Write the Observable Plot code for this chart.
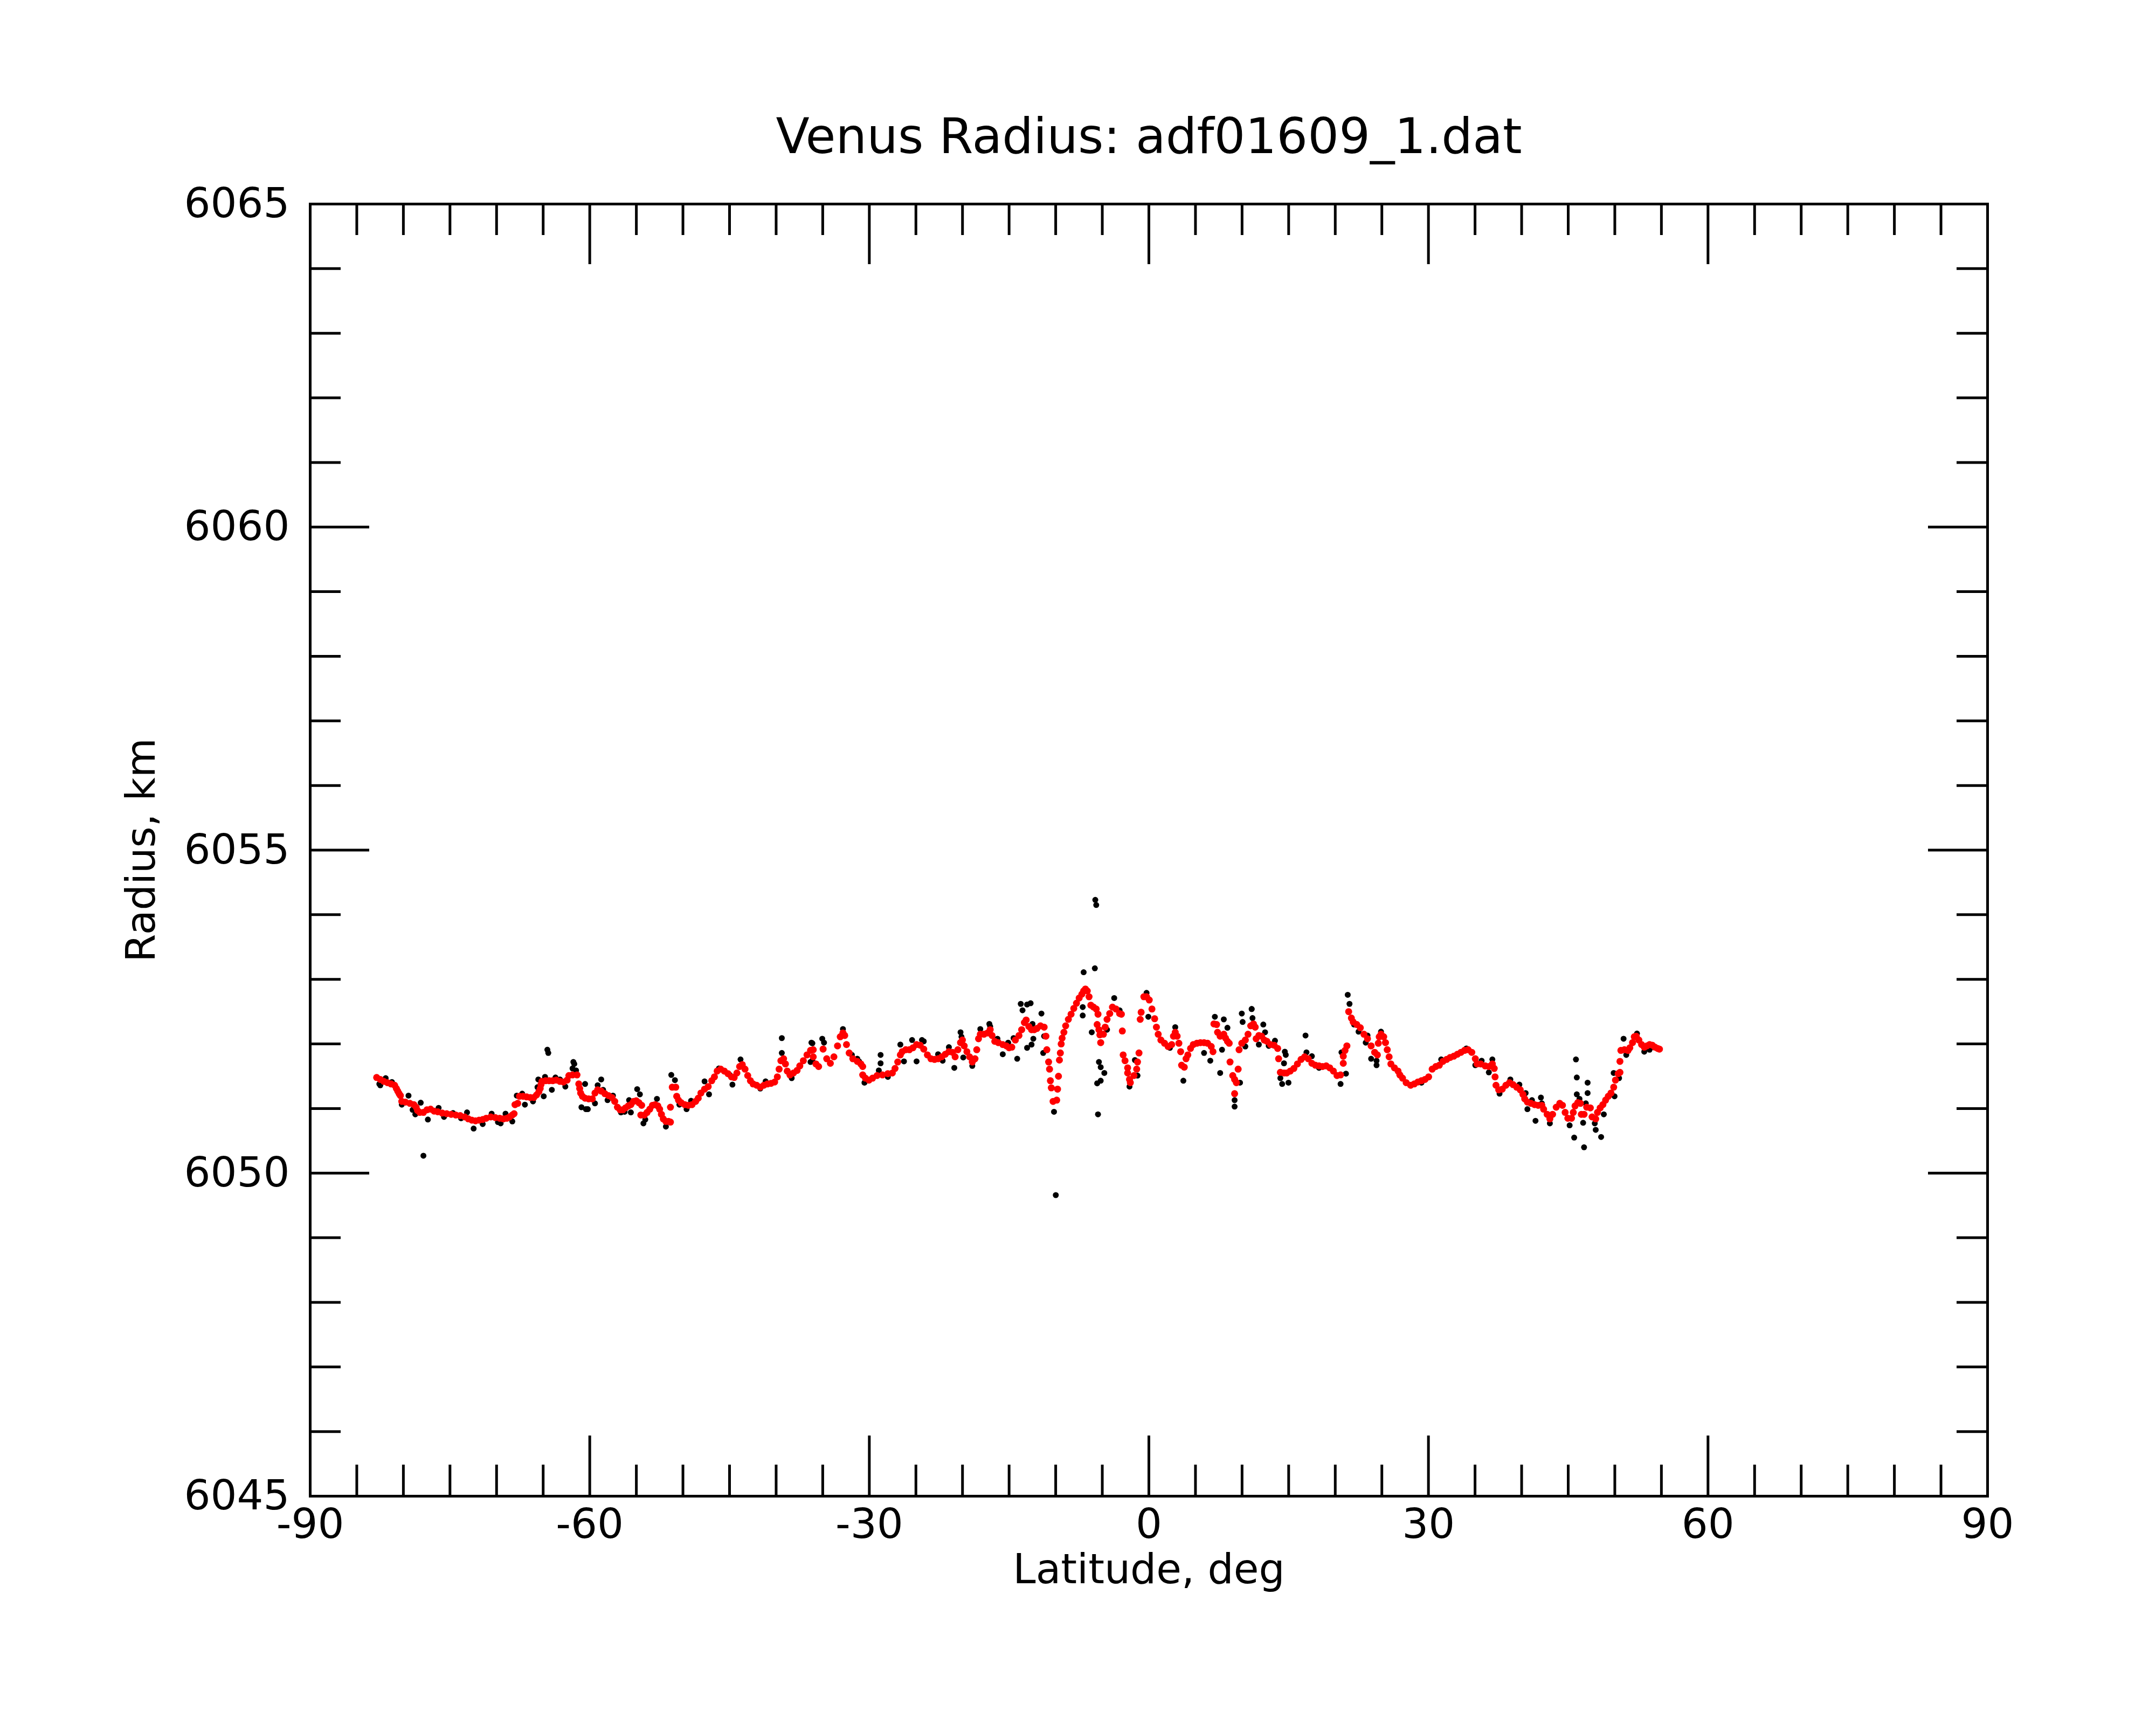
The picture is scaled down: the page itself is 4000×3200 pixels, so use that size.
<!DOCTYPE html>
<html>
<head>
<meta charset="utf-8">
<script src="https://cdn.jsdelivr.net/npm/d3@7"></script>
<script src="https://cdn.jsdelivr.net/npm/@observablehq/plot@0.6"></script>
<style>
  html, body { margin: 0; padding: 0; background: #ffffff; }
  svg { display: block; }
</style>
</head>
<body>
<div id="chart"></div>
<script>
const titleText = "Venus Radius: adf01609_1.dat";
const xLabel = "Latitude, deg";
const yLabel = "Radius, km";

const xMajorTicks = [-90, -60, -30, 0, 30, 60, 90];
const xMinorTicks = [-85, -80, -75, -70, -65, -55, -50, -45, -40, -35, -25, -20, -15, -10, -5,
                     5, 10, 15, 20, 25, 35, 40, 45, 50, 55, 65, 70, 75, 80, 85];
const yMajorTicks = [6045, 6050, 6055, 6060, 6065];
const yMinorTicks = [6046, 6047, 6048, 6049, 6051, 6052, 6053, 6054, 6056, 6057, 6058, 6059,
                     6061, 6062, 6063, 6064];

// black points: measured radius [latitude, radius]
const rawPoints = [
  [-82.58,6051.38],[-82.48,6051.36],[-81.90,6051.47],[-81.23,6051.41],[-80.17,6051.06],[-79.45,6051.20],
  [-79.01,6050.98],[-78.72,6050.91],[-78.14,6051.09],[-77.37,6050.83],[-76.22,6051.01],[-75.64,6050.87],
  [-74.67,6050.93],[-73.81,6050.85],[-73.17,6050.94],[-72.46,6050.69],[-71.49,6050.76],[-70.53,6050.92],
  [-69.85,6050.79],[-69.56,6050.77],[-69.04,6050.92],[-68.31,6050.80],[-67.83,6051.20],[-67.25,6051.23],
  [-66.96,6051.06],[-66.09,6051.11],[-65.52,6051.45],[-65.61,6051.33],[-64.94,6051.19],[-64.80,6051.49],
  [-64.55,6051.91],[-64.45,6051.86],[-64.07,6051.29],[-63.68,6051.48],[-63.20,6051.45],[-62.62,6051.34],
  [-61.76,6051.72],[-61.66,6051.69],[-61.85,6051.62],[-61.47,6051.59],[-60.50,6051.38],[-60.89,6051.02],
  [-60.41,6050.99],[-77.85,6050.27],
  [-60.21,6050.99],[-59.44,6051.08],[-59.15,6051.36],[-58.77,6051.45],[-58.57,6051.29],[-58.09,6051.13],
  [-57.51,6051.20],[-56.65,6050.94],[-56.26,6050.95],[-55.78,6051.13],[-55.59,6050.94],[-54.91,6051.30],
  [-54.62,6051.22],[-54.24,6050.77],[-54.04,6050.83],[-52.79,6051.15],[-51.83,6050.72],[-51.25,6051.52],
  [-50.86,6051.44],[-50.38,6051.06],[-49.61,6050.99],[-49.13,6051.12],[-47.68,6051.42],[-47.20,6051.22],
  [-46.14,6051.62],[-44.98,6051.52],[-44.69,6051.37],[-43.82,6051.76],[-41.70,6051.31],[-41.13,6051.42],
  [-39.39,6052.09],[-39.39,6051.86],[-38.33,6051.47],[-36.11,6052.01],[-36.31,6051.72],
  [-36.21,6052.02],[-36.11,6051.74],[-35.05,6052.08],[-34.86,6052.02],[-32.83,6052.23],[-31.87,6051.83],
  [-31.29,6051.77],[-31.10,6051.73],[-30.52,6051.40],[-28.79,6051.83],[-28.79,6051.70],[-28.98,6051.59],
  [-28.01,6051.49],[-26.67,6051.99],[-26.28,6051.73],[-25.41,6052.06],[-24.93,6051.73],[-24.35,6052.06],
  [-24.16,6052.04],[-22.62,6051.84],[-22.13,6051.74],[-21.46,6051.95],[-20.88,6051.63],[-20.21,6052.18],
  [-20.11,6052.11],[-19.92,6051.79],[-18.95,6051.66],[-18.09,6052.23],[-17.12,6052.31],[-17.03,6052.27],
  [-16.25,6052.08],[-15.68,6051.84],[-15.10,6052.02],[-14.52,6052.09],[-14.13,6051.77],[-13.75,6052.62],
  [-13.56,6052.52],[-13.07,6052.61],[-13.07,6051.94],[-12.49,6052.31],[-12.40,6052.08],
  [-5.75,6054.23],[-5.65,6054.15],[-7.00,6053.11],[-5.80,6053.17],[-7.10,6052.57],[-7.10,6052.44],
  [-6.13,6052.18],[-5.36,6051.72],[-5.17,6051.64],[-4.78,6051.55],[-5.17,6051.43],[-5.55,6051.39],
  [-5.46,6050.91],[-9.99,6049.66],[-10.18,6050.95],[-12.69,6052.63],[-11.53,6052.47],[-12.59,6051.99],
  [-11.34,6051.86],[-11.24,6052.12],[-2.08,6051.34],[-1.50,6051.75],[-1.22,6051.51],[-0.25,6052.79],
  [-0.06,6052.42],[-3.72,6052.71],[-3.14,6052.52],[-4.49,6052.22],[2.83,6052.26],[2.26,6051.94],
  [3.70,6051.43],[6.59,6051.74],[5.92,6051.86],[7.08,6052.42],[8.04,6052.38],[8.43,6052.25],
  [7.65,6051.55],[7.85,6051.91],[9.20,6051.13],[9.20,6051.03],[9.78,6051.40],[9.97,6052.47],
  [10.06,6052.34],[11.03,6052.54],[10.35,6051.96],
  [11.03,6052.54],[11.12,6052.40],[11.80,6051.99],[12.28,6052.30],[12.47,6052.18],[12.86,6051.97],
  [13.53,6052.05],[14.59,6051.88],[14.69,6051.83],[14.50,6051.70],[14.11,6051.47],[14.30,6051.38],
  [14.98,6051.40],[16.81,6052.13],[16.91,6051.87],[17.49,6051.81],[18.26,6051.63],[20.57,6051.38],
  [20.67,6051.87],[21.15,6051.54],[21.34,6052.76],[21.53,6052.62],[22.02,6052.30],[22.50,6052.19],
  [23.46,6052.13],[23.27,6052.02],[23.85,6051.77],[24.43,6051.74],[24.43,6051.67],[24.91,6052.19],
  [29.25,6051.40],[31.37,6051.76],[34.07,6051.93],[35.03,6051.67],
  [35.71,6051.74],[36.48,6051.56],[36.86,6051.76],[37.63,6051.23],[38.79,6051.45],[39.76,6051.37],
  [40.43,6051.24],[40.62,6050.99],[41.11,6051.13],[41.49,6050.81],[42.07,6051.17],[42.17,6051.08],
  [43.03,6050.77],[44.09,6051.08],[45.15,6050.74],[45.64,6050.55],[45.83,6051.76],[45.92,6051.48],
  [45.92,6051.22],[46.21,6051.15],[46.60,6050.78],[46.70,6050.40],[47.08,6051.40],[47.08,6051.24],
  [46.89,6051.08],[47.85,6050.77],[47.95,6050.67],[48.53,6050.56],[48.82,6050.91],[49.97,6051.19],
  [49.88,6051.55],[50.46,6051.47],[50.94,6052.08],[51.23,6051.83],[52.38,6052.16],[53.16,6051.88],
  [53.73,6051.91]
];

// red points: fitted radius [latitude, radius]
const fitPoints = [
  [-82.87,6051.48],[-82.48,6051.45],[-82.10,6051.42],[-81.71,6051.40],[-81.32,6051.38],[-80.94,6051.36],
  [-80.75,6051.31],[-80.61,6051.27],[-80.46,6051.23],[-80.32,6051.20],[-80.17,6051.11],[-79.78,6051.10],
  [-79.30,6051.08],[-78.88,6051.06],[-78.63,6051.02],[-78.49,6050.97],[-78.24,6050.94],[-77.85,6050.94],
  [-77.47,6050.98],[-77.08,6050.99],[-76.70,6050.96],[-76.31,6050.95],[-75.83,6050.93],[-75.35,6050.92],
  [-74.87,6050.91],[-74.38,6050.90],[-73.90,6050.89],[-73.42,6050.87],[-73.03,6050.84],[-72.65,6050.82],
  [-72.26,6050.81],[-71.88,6050.82],[-71.49,6050.83],[-71.11,6050.85],[-70.62,6050.87],[-70.14,6050.86],
  [-69.66,6050.85],[-69.27,6050.84],[-68.89,6050.85],[-68.60,6050.87],[-68.31,6050.90],[-68.12,6050.92],
  [-68.02,6051.06],[-67.73,6051.08],[-67.54,6051.19],[-67.15,6051.19],[-66.77,6051.18],[-66.38,6051.17],
  [-66.00,6051.17],[-65.71,6051.21],[-65.46,6051.26],[-65.32,6051.31],[-65.23,6051.37],[-65.13,6051.42],
  [-64.74,6051.43],[-64.36,6051.43],[-63.97,6051.43],[-63.59,6051.44],[-63.20,6051.42],[-62.82,6051.41],
  [-62.43,6051.44],[-62.24,6051.51],[-61.85,6051.52],[-61.37,6051.52],[-61.18,6051.38],[-61.08,6051.31],
  [-60.98,6051.24],[-60.79,6051.19],[-60.50,6051.16],[-60.12,6051.15],[-59.73,6051.15],
  [-59.44,6051.24],[-59.15,6051.29],[-58.77,6051.27],[-58.38,6051.23],[-57.99,6051.20],[-57.61,6051.17],
  [-57.32,6051.11],[-57.03,6051.02],[-56.74,6050.98],[-56.45,6050.98],[-56.16,6051.01],[-55.87,6051.04],
  [-55.59,6051.06],[-55.30,6051.11],[-55.01,6051.12],[-54.72,6051.09],[-54.43,6051.05],[-54.52,6050.90],
  [-54.14,6050.90],[-53.85,6050.94],[-53.56,6050.99],[-53.27,6051.05],[-52.98,6051.06],[-52.69,6051.04],
  [-52.50,6050.99],[-52.31,6050.91],[-52.11,6050.84],[-51.83,6050.80],[-51.54,6050.80],[-51.34,6050.79],
  [-51.34,6051.02],[-51.15,6051.33],[-50.77,6051.33],[-50.67,6051.19],[-50.48,6051.13],[-50.19,6051.09],
  [-49.80,6051.06],[-49.42,6051.05],[-49.03,6051.06],[-48.64,6051.11],[-48.36,6051.16],[-48.07,6051.24],
  [-47.68,6051.30],[-47.29,6051.34],[-46.91,6051.43],[-46.62,6051.49],[-46.33,6051.58],[-45.95,6051.61],
  [-45.56,6051.58],[-45.17,6051.54],[-44.79,6051.49],[-44.50,6051.48],[-44.21,6051.55],[-43.92,6051.65],
  [-43.63,6051.68],[-43.34,6051.61],[-43.05,6051.51],[-42.76,6051.43],[-42.47,6051.38],[-42.09,6051.36],
  [-41.70,6051.33],[-41.32,6051.36],[-40.93,6051.38],[-40.55,6051.39],[-40.16,6051.41],[-39.87,6051.49],
  [-39.68,6051.61],[-39.49,6051.74],[-39.20,6051.77],[-39.00,6051.69],[-38.81,6051.58],[-38.52,6051.52],
  [-38.14,6051.55],[-37.75,6051.59],[-37.46,6051.66],[-37.08,6051.74],[-36.69,6051.83],[-36.31,6051.90],
  [-36.02,6051.91],
  [-36.02,6051.80],[-35.73,6051.69],[-35.44,6051.65],[-34.96,6051.92],[-34.57,6051.77],[-34.18,6051.70],
  [-33.80,6051.80],[-33.41,6051.97],[-33.12,6052.11],[-32.83,6052.17],[-32.64,6052.13],[-32.45,6051.99],
  [-32.16,6051.86],[-31.77,6051.77],[-31.29,6051.73],[-30.91,6051.69],[-30.71,6051.65],[-30.71,6051.52],
  [-30.42,6051.47],[-30.04,6051.44],[-29.65,6051.47],[-29.17,6051.51],[-28.59,6051.52],[-28.01,6051.54],
  [-27.53,6051.55],[-27.24,6051.62],[-26.95,6051.72],[-26.67,6051.83],[-26.47,6051.88],[-26.09,6051.91],
  [-25.70,6051.91],[-25.32,6051.94],[-24.93,6051.99],[-24.54,6051.98],[-24.16,6051.92],[-23.77,6051.83],
  [-23.39,6051.77],[-23.00,6051.76],[-22.62,6051.77],[-22.23,6051.80],[-21.85,6051.84],[-21.46,6051.88],
  [-21.07,6051.87],[-20.79,6051.80],[-20.50,6051.91],[-20.21,6052.02],[-20.01,6052.06],[-19.82,6051.97],
  [-19.53,6051.88],[-19.24,6051.80],[-18.95,6051.72],[-18.66,6051.77],[-18.47,6051.91],[-18.28,6052.08],
  [-18.09,6052.15],[-17.70,6052.15],[-17.31,6052.17],[-17.03,6052.22],[-16.83,6052.13],[-16.54,6052.04],
  [-16.16,6052.02],[-15.68,6051.99],[-15.29,6051.97],[-15.00,6051.94],[-14.71,6051.95],[-14.33,6052.06],
  [-13.94,6052.13],[-13.65,6052.22],[-13.36,6052.33],[-13.17,6052.37],[-12.88,6052.27],[-12.59,6052.22],
  [-12.30,6052.22],
  [-12.01,6052.24],[-11.63,6052.28],[-11.24,6052.26],[-11.05,6052.12],[-10.95,6051.91],[-10.76,6051.72],
  [-10.66,6051.61],[-10.57,6051.43],[-10.47,6051.32],[-10.28,6051.11],[-9.89,6051.13],[-9.80,6051.30],
  [-9.70,6051.50],[-9.60,6051.75],[-9.50,6051.86],[-9.41,6052.00],[-9.31,6052.09],[-9.12,6052.18],
  [-8.93,6052.28],[-8.64,6052.38],[-8.35,6052.46],[-8.06,6052.55],[-7.77,6052.63],[-7.48,6052.71],
  [-7.19,6052.77],[-7.00,6052.82],[-6.81,6052.85],[-6.61,6052.82],[-6.42,6052.73],[-6.23,6052.60],
  [-5.94,6052.57],[-5.65,6052.54],[-5.46,6052.46],[-5.55,6052.30],[-5.36,6052.22],[-5.26,6052.14],
  [-5.17,6052.02],[-4.88,6052.15],[-4.69,6052.26],[-4.49,6052.38],[-4.20,6052.47],[-3.91,6052.57],
  [-3.53,6052.54],[-3.14,6052.47],[-2.95,6052.46],[-2.85,6052.20],[-2.76,6051.83],[-2.56,6051.74],
  [-2.28,6051.63],[-2.28,6051.55],[-2.08,6051.45],[-1.99,6051.40],[-1.60,6051.51],[-1.31,6051.61],
  [-1.22,6051.72],[-1.06,6051.86],[-0.93,6052.38],[-0.83,6052.49],[-0.54,6052.73],[-0.25,6052.73],
  [0.04,6052.68],[0.33,6052.54],[0.62,6052.39],[0.81,6052.26],[1.00,6052.15],[1.29,6052.06],
  [1.68,6052.01],[2.06,6051.96],[2.45,6051.99],[2.64,6052.12],[2.83,6052.18],[3.03,6052.12],
  [3.22,6052.01],[3.41,6051.88],[3.51,6051.67],[3.80,6051.64],[3.99,6051.77],[4.18,6051.83],
  [4.47,6051.93],[4.76,6051.99],[5.15,6052.01],[5.53,6052.02],[5.92,6052.02],[6.30,6052.01],
  [6.69,6051.96],[6.88,6051.88],[6.98,6052.31],[7.27,6052.30],[7.37,6052.18],[7.65,6052.12],
  [8.04,6052.15],[8.23,6052.09],[8.43,6052.04],[8.62,6052.01],[8.71,6051.72],[9.00,6051.51],
  [9.20,6051.45],[9.39,6051.40],[9.58,6051.61],[9.20,6051.23],[9.68,6051.91],[9.97,6052.01],
  [10.35,6052.06],[10.64,6052.15],[10.93,6052.28],[11.22,6052.31],[11.41,6052.26],
  [11.51,6052.08],[11.80,6052.13],[12.09,6052.12],[12.38,6052.06],[12.67,6052.04],[13.05,6051.99],
  [13.44,6051.98],[13.82,6051.93],[13.92,6051.77],[14.11,6051.56],[14.50,6051.55],[14.79,6051.55],
  [15.17,6051.58],[15.56,6051.62],[15.94,6051.69],[16.33,6051.76],[16.71,6051.80],[17.10,6051.77],
  [17.49,6051.70],[17.87,6051.67],[18.26,6051.66],[18.64,6051.65],[19.03,6051.66],[19.41,6051.63],
  [19.80,6051.58],[20.19,6051.51],[20.57,6051.52],[20.86,6051.70],[20.86,6051.81],[21.05,6051.90],
  [21.25,6051.97],[21.44,6052.50],[21.73,6052.40],[21.92,6052.34],[22.31,6052.30],[22.69,6052.25],
  [23.08,6052.15],[23.46,6052.08],[23.85,6051.97],[24.23,6051.87],[24.52,6051.83],[24.62,6052.01],
  [24.72,6052.11],[24.91,6052.15],[25.20,6052.11],[25.39,6052.02],[25.58,6051.91],[25.78,6051.80],
  [25.97,6051.69],[26.35,6051.63],[26.74,6051.58],[26.93,6051.52],[27.22,6051.47],[27.61,6051.40],
  [28.09,6051.36],[28.48,6051.38],[28.86,6051.41],[29.25,6051.43],[29.63,6051.45],[30.02,6051.49],
  [30.40,6051.61],[30.79,6051.65],[31.17,6051.67],[31.56,6051.73],[31.95,6051.76],[32.33,6051.79],
  [32.72,6051.81],[33.10,6051.84],[33.49,6051.87],[33.87,6051.90],[34.26,6051.91],[34.65,6051.87],
  [35.03,6051.77],[35.22,6051.69],
  [35.61,6051.69],[36.09,6051.66],[36.48,6051.65],[36.86,6051.69],[37.06,6051.62],[37.15,6051.49],
  [37.25,6051.36],[37.54,6051.29],[37.92,6051.30],[38.31,6051.36],[38.70,6051.40],[39.08,6051.37],
  [39.47,6051.33],[39.85,6051.29],[40.14,6051.22],[40.33,6051.15],[40.62,6051.10],[41.01,6051.08],
  [41.39,6051.06],[41.78,6051.05],[42.17,6051.05],[42.36,6050.99],[42.74,6050.91],[43.03,6050.84],
  [43.32,6050.91],[43.71,6051.02],[44.09,6051.08],[44.38,6051.05],[44.67,6050.94],[44.96,6050.85],
  [45.35,6050.85],[45.54,6050.94],[45.73,6051.04],[46.02,6051.09],[46.31,6051.08],[46.41,6050.91],
  [46.70,6050.91],[46.98,6051.02],[47.37,6051.01],[47.56,6050.87],[47.95,6050.84],[48.14,6050.94],
  [48.43,6051.01],[48.72,6051.06],[49.01,6051.13],[49.30,6051.19],[49.59,6051.24],[49.88,6051.33],
  [50.07,6051.44],[50.36,6051.54],[50.55,6051.56],[50.55,6051.73],[50.65,6051.90],[51.03,6051.91],
  [51.42,6051.90],[51.61,6051.94],[51.90,6052.02],[52.09,6052.11],[52.29,6052.12],[52.58,6052.06],
  [52.87,6051.99],[53.16,6051.95],[53.44,6051.97],[53.73,6051.99],[54.02,6051.98],[54.31,6051.95],
  [54.60,6051.93],[54.79,6051.92]
];

const W = 4000, H = 3200;
const mL = 575, mR = 313, mT = 378, mB = 425;
const plotW = W - mL - mR;
const plotH = H - mT - mB;
const font = "DejaVu Sans";

const chart = Plot.plot({
  width: W,
  height: H,
  marginLeft: mL,
  marginRight: mR,
  marginTop: mT,
  marginBottom: mB,
  style: { fontFamily: font, background: "#ffffff", color: "#000000" },
  x: { domain: [-90, 90], label: null },
  y: { domain: [6045, 6065], label: null },
  marks: [
    Plot.dot(rawPoints, { x: d => d[0], y: d => d[1], r: 5.5, fill: "#000000" }),
    Plot.dot(fitPoints, { x: d => d[0], y: d => d[1], r: 6.5, fill: "#ff0000" }),
    // inward minor / major ticks on all four sides
    Plot.tickX(xMinorTicks, { x: d => d, insetTop: plotH - 58, stroke: "#000", strokeWidth: 5 }),
    Plot.tickX(xMinorTicks, { x: d => d, insetBottom: plotH - 58, stroke: "#000", strokeWidth: 5 }),
    Plot.tickX(xMajorTicks, { x: d => d, insetTop: plotH - 112, stroke: "#000", strokeWidth: 5 }),
    Plot.tickX(xMajorTicks, { x: d => d, insetBottom: plotH - 112, stroke: "#000", strokeWidth: 5 }),
    Plot.tickY(yMinorTicks, { y: d => d, insetRight: plotW - 57, stroke: "#000", strokeWidth: 5 }),
    Plot.tickY(yMinorTicks, { y: d => d, insetLeft: plotW - 57, stroke: "#000", strokeWidth: 5 }),
    Plot.tickY(yMajorTicks, { y: d => d, insetRight: plotW - 110, stroke: "#000", strokeWidth: 5 }),
    Plot.tickY(yMajorTicks, { y: d => d, insetLeft: plotW - 110, stroke: "#000", strokeWidth: 5 }),
    Plot.frame({ stroke: "#000", strokeWidth: 5 }),
    Plot.axisX(xMajorTicks, { anchor: "bottom", tickSize: 0, tickPadding: 23, fontSize: 77,
                              tickFormat: d => String(d), label: null }),
    Plot.axisY(yMajorTicks, { anchor: "left", tickSize: 0, tickPadding: 38, fontSize: 77,
                              tickFormat: d => String(d), label: null }),
    Plot.text([titleText], { text: d => d, frameAnchor: "top", dy: -124, fontSize: 91,
                             textAnchor: "middle", lineAnchor: "middle", fill: "#000" }),
    Plot.text([xLabel], { text: d => d, frameAnchor: "bottom", dy: 137, fontSize: 76,
                          textAnchor: "middle", lineAnchor: "middle", fill: "#000" }),
    Plot.text([yLabel], { text: d => d, frameAnchor: "left", dx: -313, rotate: -90, fontSize: 75,
                          textAnchor: "middle", lineAnchor: "middle", fill: "#000" })
  ]
});

document.getElementById("chart").appendChild(chart);
</script>
</body>
</html>
